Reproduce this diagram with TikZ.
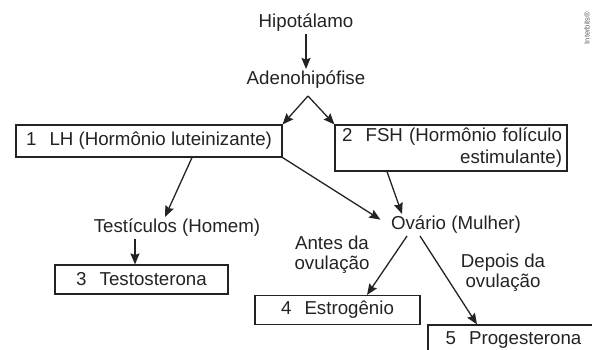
\documentclass[tikz,border=0pt]{standalone}
\usepackage{fontspec}
\setmainfont{Liberation Sans}
\usetikzlibrary{arrows.meta,positioning}
\definecolor{ink}{RGB}{35,35,35}
\tikzset{
  lbl/.style={font=\fontsize{18.7}{22}\selectfont, text=ink, inner sep=2pt},
  twoline/.style={lbl, align=center, font=\fontsize{18.7}{20}\selectfont},
  hbox/.style={lbl, draw=ink, line width=1.1pt, minimum height=29pt},
  arr/.style={-{Stealth[length=11pt,width=9pt,inset=1.5pt]}, line width=1.3pt, draw=ink},
}
\newcommand{\numgap}{\hspace{0.7em}}

\begin{document}
\begin{tikzpicture}[x=1pt,y=-1pt]
  \clip (0,0) rectangle (592,350);
  % top of the chain
  \node[lbl] (hipo) at (306,23) {Hipotálamo};
  \node[lbl] (adeno) at (306,80) {Adenohipófise};
  \coordinate (split) at (308,96);
  % hormone boxes
  \node[hbox, minimum width=266pt, minimum height=32pt] (lh) at (149,141) {1\numgap LH (Hormônio luteinizante)};
  \node[hbox, minimum width=232pt, minimum height=46pt, text width=222pt, align=right, inner xsep=5pt] (fsh) at (451,148) {2\numgap FSH (Hormônio folículo\\estimulante)};
  % glands
  \node[lbl] (testic) at (177,228) {Testículos (Homem)};
  \node[lbl] (ovario) at (456,225) {Ovário (Mulher)};
  \node[hbox, minimum width=173pt] (testo) at (141.5,279.5) {3\numgap Testosterona};
  \node[hbox, minimum width=165pt] (estrog) at (337.5,310) {4\numgap Estrogênio};
  \node[hbox, minimum width=171pt, minimum height=31pt] (proges) at (513.5,340.5) {5\numgap Progesterona};
  \node[twoline] (antes) at (332,255) {Antes da\\ovulação};
  \node[twoline] (depois) at (503,273) {Depois da\\ovulação};
  \node[font=\fontsize{7.5}{8}\selectfont, text=black!65, rotate=90, inner sep=0pt] (credit) at (587,28) {Interbits®};
  % arrows
  \draw[arr] (hipo) -- (adeno);
  \draw[arr] (split) -- (lh.north east);
  \draw[arr] (split) -- (fsh.north west);
  \draw[arr] ([xshift=43pt]lh.south) -- ([xshift=-12pt]testic.north);
  \draw[arr, shorten >=10pt] (lh.south east) -- (ovario.west);
  \draw[arr] ([xshift=-64pt]fsh.south) -- ([xshift=-54pt]ovario.north);
  \draw[arr] ([xshift=-42pt]testic.south) -- ([xshift=-6.5pt]testo.north);
  \draw[arr] ([xshift=-49pt]ovario.south) -- ([xshift=29.5pt]estrog.north);
  \draw[arr] ([xshift=-36pt]ovario.south) -- ([xshift=-36.5pt]proges.north);
\end{tikzpicture}
\end{document}
